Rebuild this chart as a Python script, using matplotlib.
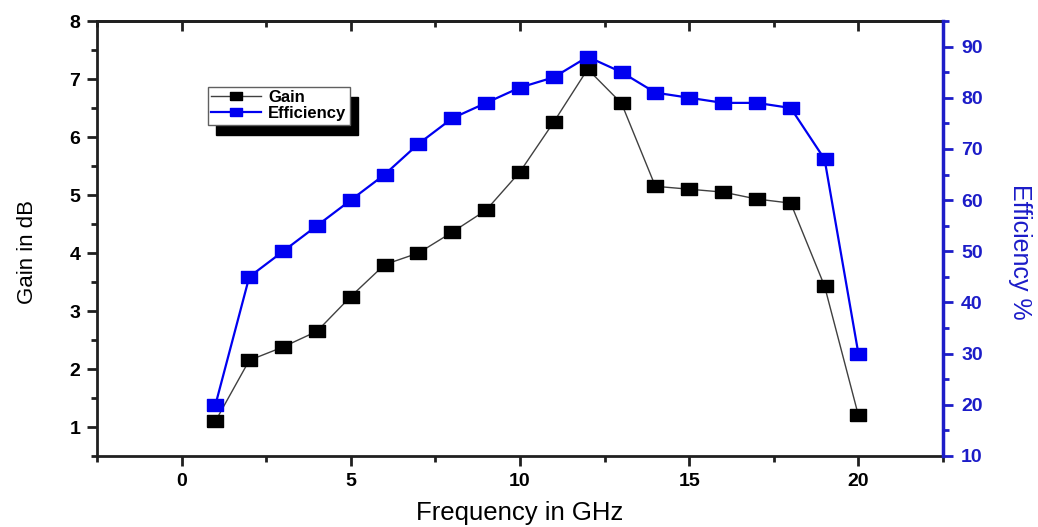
#!/usr/bin/env python3
# -*- coding: utf-8 -*-
"""
Gain and efficiency versus frequency, twin y axes.
"""

import numpy as np
import matplotlib as mpl
from matplotlib import pyplot as plt
from matplotlib.patches import Rectangle
from matplotlib.ticker import MultipleLocator

mpl.use('Agg')

# %% Data
freq_ghz = [1, 2, 3, 4, 5, 6, 7, 8, 9, 10,
            11, 12, 13, 14, 15, 16, 17, 18, 19, 20]
gain_db = [1.10, 2.15, 2.38, 2.65, 3.25, 3.80, 4.00, 4.36, 4.74, 5.40,
           6.26, 7.17, 6.58, 5.15, 5.10, 5.05, 4.93, 4.86, 3.43, 1.20]
efficiency = [20, 45, 50, 55, 60, 65, 71, 76, 79, 82,
              84, 88, 85, 81, 80, 79, 79, 78, 68, 30]

# %% Style
plt.rcParams['font.family'] = ['Liberation Sans', 'DejaVu Sans']
blue = '#0000f0'
axblue = '#1c1cc8'
dark = '#202020'
rect_marker = [(-1.3, -0.9), (1.3, -0.9), (1.3, 0.9), (-1.3, 0.9), (-1.3, -0.9)]

fig = plt.figure(figsize=(10.38, 5.27), dpi=100)
ax = fig.add_axes([97/1038, 1-456/527, (943-97)/1038, (456-21)/527])
ax2 = ax.twinx()

l1, = ax.plot(freq_ghz, gain_db, color='#404040', lw=1.0, marker=rect_marker,
              ms=12, mfc='k', mec='k', label='Gain', zorder=3)
l2, = ax2.plot(freq_ghz, efficiency, color=blue, lw=1.6, marker=rect_marker,
               ms=12, mfc=blue, mec=blue, label='Efficiency', zorder=3)

ax.set_xlim(-2.5, 22.5)
ax.set_ylim(0.5, 8)
ax2.set_ylim(10, 95)

ax.xaxis.set_major_locator(MultipleLocator(5))
ax.xaxis.set_minor_locator(MultipleLocator(2.5))
ax.yaxis.set_major_locator(MultipleLocator(1))
ax.yaxis.set_minor_locator(MultipleLocator(0.5))
ax2.yaxis.set_major_locator(MultipleLocator(10))
ax2.yaxis.set_minor_locator(MultipleLocator(5))

for sp in ['left', 'bottom', 'top']:
    ax.spines[sp].set_linewidth(2)
    ax.spines[sp].set_color(dark)
    ax2.spines[sp].set_visible(False)
ax.spines['right'].set_visible(False)
ax2.spines['right'].set_linewidth(2.5)
ax2.spines['right'].set_color(axblue)

ax.tick_params(axis='both', which='major', direction='out', length=7,
               width=2, labelsize=14, color=dark, pad=5)
ax.tick_params(axis='both', which='minor', direction='out', length=4,
               width=2, color=dark)
ax2.tick_params(axis='y', which='major', direction='out', length=7,
                width=2, labelsize=14, colors=axblue, pad=6)
ax2.tick_params(axis='y', which='minor', direction='out', length=4,
                width=2, colors=axblue)

# top ticks point inward
top = ax.secondary_xaxis('top')
top.xaxis.set_major_locator(MultipleLocator(5))
top.xaxis.set_minor_locator(MultipleLocator(2.5))
top.tick_params(which='major', direction='in', length=7, width=2,
                color=dark, labeltop=False)
top.tick_params(which='minor', direction='in', length=4, width=2,
                color=dark)
top.spines['top'].set_linewidth(2)
top.spines['top'].set_color(dark)

for lab in ax.get_xticklabels() + ax.get_yticklabels():
    lab.set_fontweight('bold')
for lab in ax2.get_yticklabels():
    lab.set_fontweight('bold')
    lab.set_color(axblue)

# Labels
ax.set_xlabel('Frequency in GHz', fontsize=18.5, labelpad=8)
ax.set_ylabel('Gain in dB', fontsize=16, va='center')
ax.yaxis.set_label_coords(-0.082, 0.469)
ax2.set_ylabel('Efficiency %', fontsize=18, color=axblue, rotation=270,
               va='center')
ax2.yaxis.set_label_coords(1.091, 0.469)

leg = ax2.legend(handles=[l1, l2], loc='upper left',
                 bbox_to_anchor=((208-97)/846, 1-(87-21)/435),
                 prop={'weight': 'bold', 'size': 12}, frameon=True,
                 fancybox=False, edgecolor='#606060', framealpha=1,
                 handlelength=3.0, handletextpad=0.4, borderpad=0.2,
                 labelspacing=0.05, borderaxespad=0, markerscale=0.75)
leg.get_frame().set_linewidth(1.0)
leg.set_zorder(10)

# Legend shadow
fig.canvas.draw()
bb = leg.get_window_extent()
shadow = Rectangle((bb.x0 + 8, bb.y0 - 10), bb.width, bb.height,
                   transform=None, facecolor='k', edgecolor='k', zorder=9)
ax2.add_artist(shadow)

fig.savefig('out.png', dpi=100)
plt.close()
